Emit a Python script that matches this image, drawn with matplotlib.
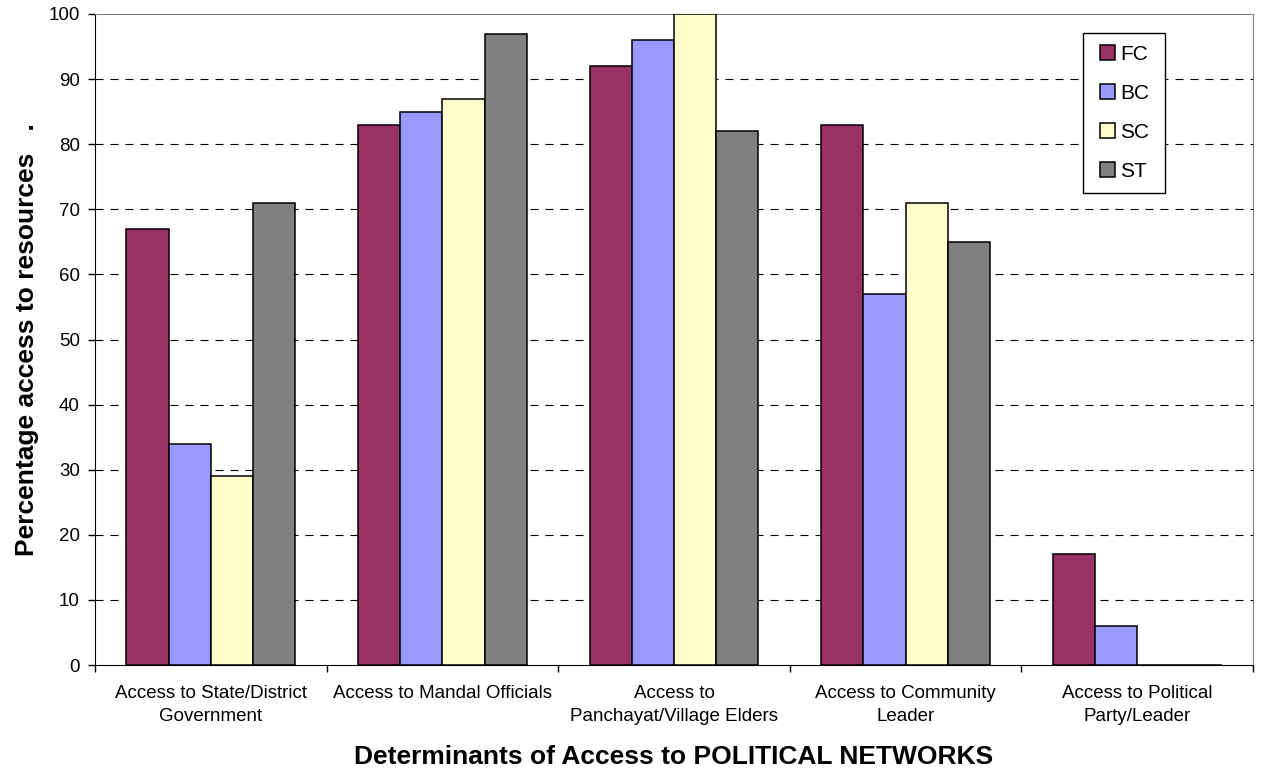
"""Grouped bars: access to political networks by caste group (FC/BC/SC/ST)."""
import matplotlib
matplotlib.use("Agg")
import matplotlib.pyplot as plt
from matplotlib.patches import Rectangle
import numpy as np

plt.rcParams["font.family"] = ["Liberation Sans", "DejaVu Sans"]

CATEGORIES = [
    "Access to State/District\nGovernment",
    "Access to Mandal Officials",
    "Access to\nPanchayat/Village Elders",
    "Access to Community\nLeader",
    "Access to Political\nParty/Leader",
]
GROUPS = ["FC", "BC", "SC", "ST"]
FC = [67, 83, 92, 83, 17]
BC = [34, 85, 96, 57, 6]
SC = [29, 87, 100, 71, 0]
ST = [71, 97, 82, 65, 0]
COLORS = ["#993366", "#9999FF", "#FFFFCC", "#808080"]
Y_TICKS = list(range(0, 101, 10))

W, H = 1263, 774


def fx(px):
    return px / W


def fy(py):
    return 1 - py / H


def main():
    fig = plt.figure(figsize=(W / 100, H / 100), dpi=100)
    ax = fig.add_axes([fx(95), fy(665), fx(1253 - 95), (665 - 14) / H])

    x = np.arange(len(CATEGORIES))
    width = 0.182
    for i, (name, vals, col) in enumerate(zip(GROUPS, [FC, BC, SC, ST], COLORS)):
        off = (i - 1.5) * width
        ax.bar(x + off, vals, width=width, color=col, edgecolor="black",
               linewidth=1.1, label=name, zorder=3)

    ax.set_xlim(-0.5, len(CATEGORIES) - 0.5)
    ax.set_ylim(0, 100)
    ax.set_yticks(Y_TICKS)
    ax.tick_params(axis="y", labelsize=13.5, length=5, direction="out",
                   width=1, pad=6)
    for g in Y_TICKS[1:-1]:
        ax.axhline(g, color="black", lw=0.8, ls=(0, (7.2, 6.3)), zorder=1)

    # category labels sit between the boundary ticks
    ax.set_xticks(np.arange(len(CATEGORIES) + 1) - 0.5)
    ax.set_xticklabels([])
    ax.tick_params(axis="x", length=5, direction="out", width=1)
    for xi, lab in zip(x, CATEGORIES):
        ax.text(xi, -3.1, lab, ha="center", va="top", fontsize=13.5,
                linespacing=1.45)

    for s in ("top", "right"):
        ax.spines[s].set_color("#808080")
    for s in ("left", "bottom"):
        ax.spines[s].set_color("black")

    fig.text(fx(27), fy(340), "Percentage access to resources   .",
             rotation=90, ha="center", va="center", fontsize=19,
             fontweight="bold")
    fig.text(fx(674), fy(764), "Determinants of Access to POLITICAL NETWORKS",
             ha="center", va="baseline", fontsize=19, fontweight="bold")

    # legend without its own frame; box drawn separately to match padding
    fig.legend(loc="upper left", bbox_to_anchor=(fx(1100), fy(45)),
               fontsize=15, frameon=False, handlelength=0.7,
               handleheight=0.7, handletextpad=0.25, labelspacing=0.96,
               borderpad=0, borderaxespad=0)
    fig.patches.append(Rectangle((fx(1083), fy(193)), fx(1165 - 1083),
                                 (193 - 33) / H, transform=fig.transFigure,
                                 facecolor="white", edgecolor="black",
                                 linewidth=1.0, zorder=0.5))

    fig.savefig("out.png", dpi=100)
    plt.close(fig)


if __name__ == "__main__":
    main()
